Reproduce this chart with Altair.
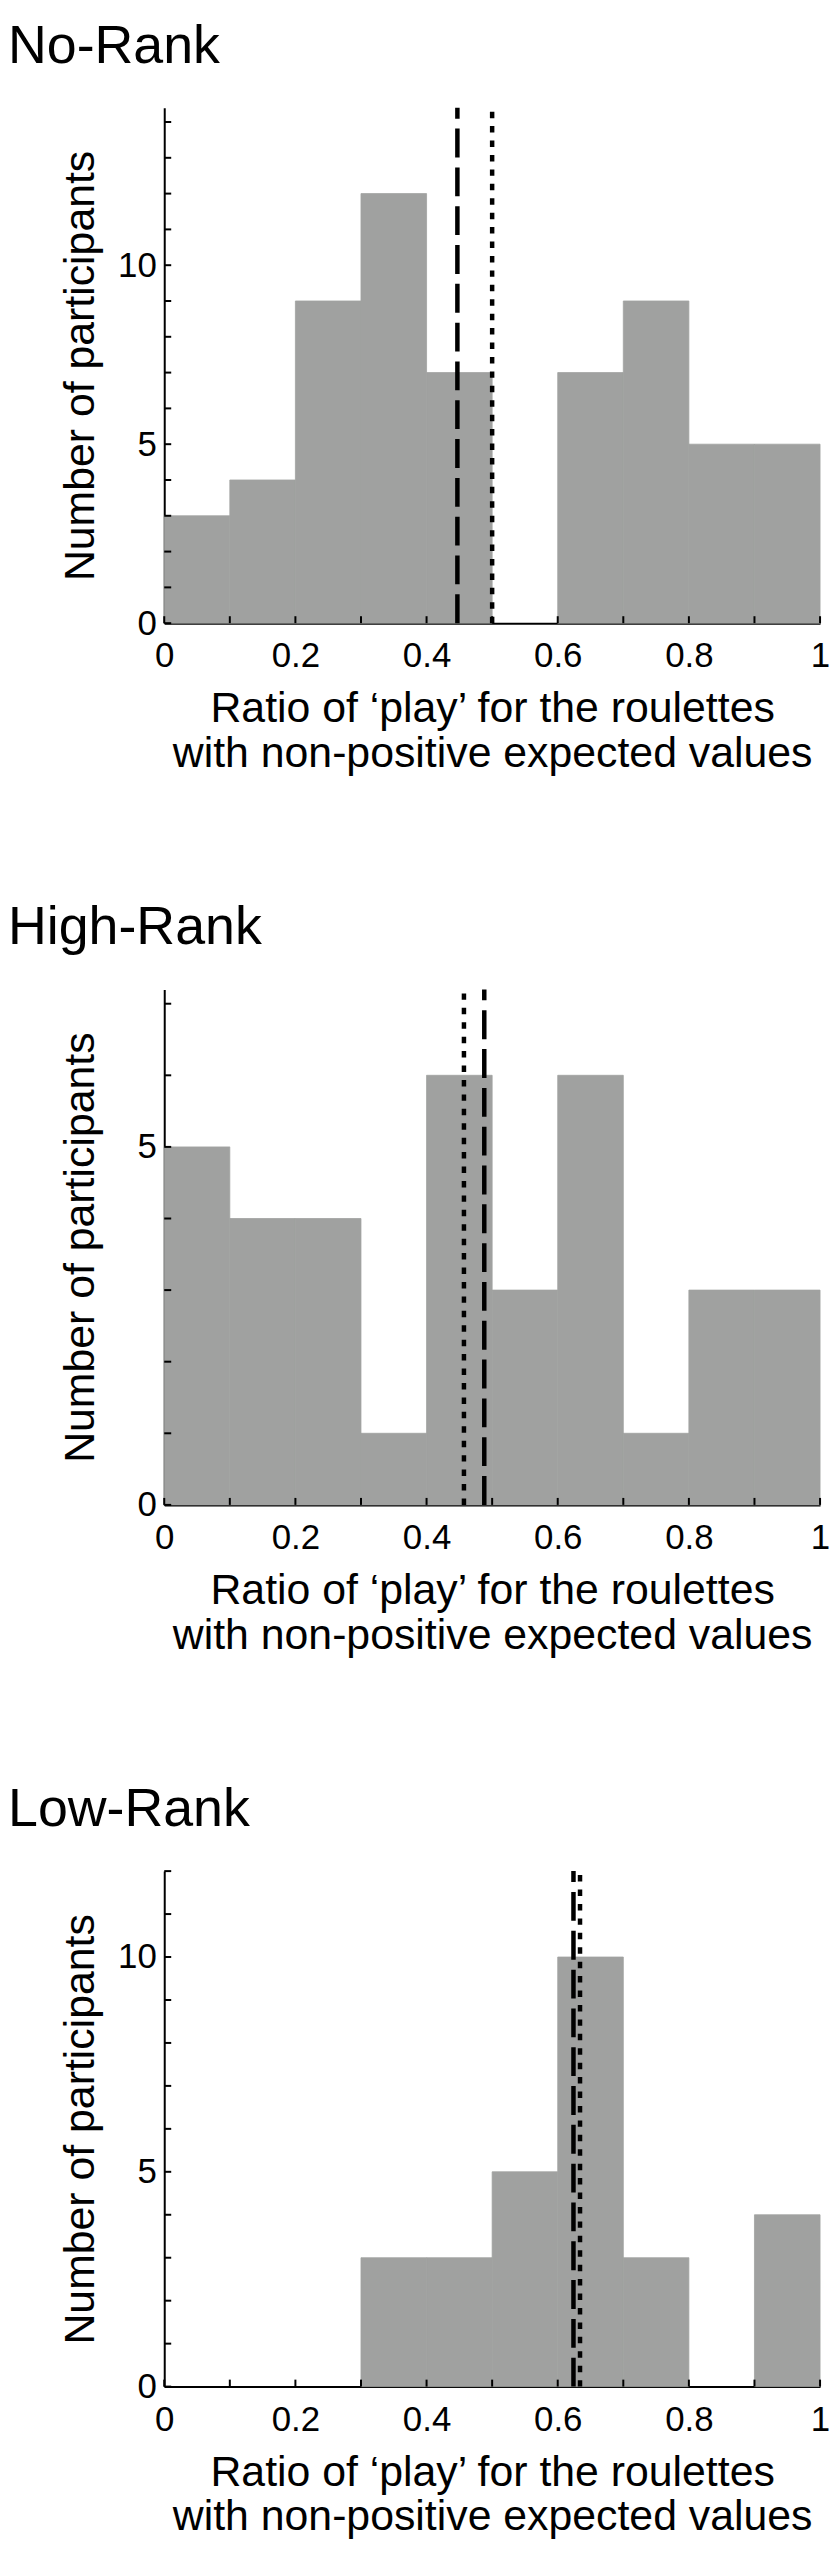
import altair as alt
import pandas as pd

FONT = "Liberation Sans"
GRAY = "#a0a1a0"

# ---- data ----
bin_start = [0.0, 0.1, 0.2, 0.3, 0.4, 0.5, 0.6, 0.7, 0.8, 0.9]
bin_end = [0.1, 0.2, 0.3, 0.4, 0.5, 0.6, 0.7, 0.8, 0.9, 1.0]

no_rank_counts = [3, 4, 9, 12, 7, 0, 7, 9, 5, 5]
high_rank_counts = [5, 4, 4, 1, 6, 3, 6, 1, 3, 3]
low_rank_counts = [0, 0, 0, 3, 3, 5, 10, 3, 0, 4]

panel_titles = ["No-Rank", "High-Rank", "Low-Rank"]
y_max = [14.4, 7.2, 12.0]
dashed_x = [0.447, 0.488, 0.624]
dotted_x = [0.500, 0.457, 0.634]

x_tick_values = [0.0, 0.1, 0.2, 0.3, 0.4, 0.5, 0.6, 0.7, 0.8, 0.9, 1.0]
x_label_values = [0, 0.2, 0.4, 0.6, 0.8, 1]
y_tick_values = [
    [0, 1, 2, 3, 4, 5, 6, 7, 8, 9, 10, 11, 12, 13, 14],
    [0, 1, 2, 3, 4, 5, 6, 7],
    [0, 1, 2, 3, 4, 5, 6, 7, 8, 9, 10, 11, 12],
]
y_label_values = [0, 5, 10]

x_title = ["Ratio of \u2018play\u2019 for the roulettes", "with non-positive expected values"]
y_title = "Number of participants"

W = 659
H = 518

X_AXIS = alt.Axis(
    values=x_label_values,
    format="~g",
    title=x_title,
    ticks=False,
    grid=False,
    domainColor="black",
    domainWidth=2,
    labelFont=FONT,
    labelFontSize=35,
    labelColor="black",
    labelPadding=16,
    labelFlush=False,
    labelOverlap=False,
    labelBound=False,
    titleFont=FONT,
    titleFontSize=43,
    titleFontWeight="normal",
    titleColor="black",
    titleLineHeight=45,
    titleBaseline="alphabetic",
    titleY=99,
)

Y_AXIS = alt.Axis(
    values=y_label_values,
    format="d",
    title=y_title,
    ticks=False,
    grid=False,
    domainColor="black",
    domainWidth=2,
    labelFont=FONT,
    labelFontSize=35,
    labelColor="black",
    labelPadding=8,
    labelOverlap=False,
    labelFlush=False,
    titleFont=FONT,
    titleFontSize=43,
    titleFontWeight="normal",
    titleColor="black",
    titleBaseline="alphabetic",
    titleX=-71,
)


def panel(title, counts, ymax, dash_x, dot_x, yticks):
    xs = alt.Scale(domain=[0, 1], nice=False, zero=False)
    ys = alt.Scale(domain=[0, ymax], nice=False, zero=True)

    bars_df = pd.DataFrame({"x0": bin_start, "x1": bin_end, "n": counts})
    bars = (
        alt.Chart(bars_df)
        .transform_filter("datum.n > 0")
        .mark_rect(color=GRAY, stroke=GRAY, strokeWidth=0.8)
        .encode(
            x=alt.X("x0:Q", scale=xs, axis=X_AXIS),
            x2="x1:Q",
            y=alt.Y("n:Q", scale=ys, axis=Y_AXIS),
            y2=alt.datum(0),
        )
    )

    ytick_df = pd.DataFrame({"t": yticks})
    yt = alt.Chart(ytick_df).mark_rule(color="black", strokeWidth=2).encode(
        y=alt.Y("t:Q", scale=ys, axis=Y_AXIS),
        x=alt.value(0),
        x2=alt.value(7),
    )
    xtick_df = pd.DataFrame({"t": x_tick_values})
    xt = alt.Chart(xtick_df).mark_rule(color="black", strokeWidth=2).encode(
        x=alt.X("t:Q", scale=xs, axis=X_AXIS),
        y=alt.value(H),
        y2=alt.value(H - 7),
    )

    dash_df = pd.DataFrame({"x": [dash_x], "y0": [0], "y1": [ymax]})
    dash = alt.Chart(dash_df).mark_rule(
        color="black", strokeWidth=4.5, strokeDash=[29, 10]
    ).encode(
        x=alt.X("x:Q", scale=xs, axis=X_AXIS),
        y=alt.Y("y0:Q", scale=ys, axis=Y_AXIS),
        y2="y1:Q",
    )
    dot_df = pd.DataFrame({"x": [dot_x], "y0": [0], "y1": [ymax]})
    dot = alt.Chart(dot_df).mark_rule(
        color="black", strokeWidth=4.5, strokeDash=[6.5, 8]
    ).encode(
        x=alt.X("x:Q", scale=xs, axis=X_AXIS),
        y=alt.Y("y0:Q", scale=ys, axis=Y_AXIS),
        y2="y1:Q",
    )

    return alt.layer(bars, dash, dot, yt, xt).properties(
        width=W,
        height=H,
        title=alt.TitleParams(
            text=title,
            anchor="start",
            frame="group",
            dx=-157,
            offset=32,
            fontSize=54,
            font=FONT,
            fontWeight="normal",
            color="black",
        ),
    )


counts_list = [no_rank_counts, high_rank_counts, low_rank_counts]
panels = [
    panel(panel_titles[i], counts_list[i], y_max[i], dashed_x[i], dotted_x[i], y_tick_values[i])
    for i in range(3)
]

chart = (
    alt.vconcat(*panels, spacing=126)
    .properties(padding={"left": 0, "top": 5, "right": 0, "bottom": 0}, background="white")
    .configure_view(stroke=None)
)

chart.save("out.html", embed_options={"renderer": "svg", "actions": False})
